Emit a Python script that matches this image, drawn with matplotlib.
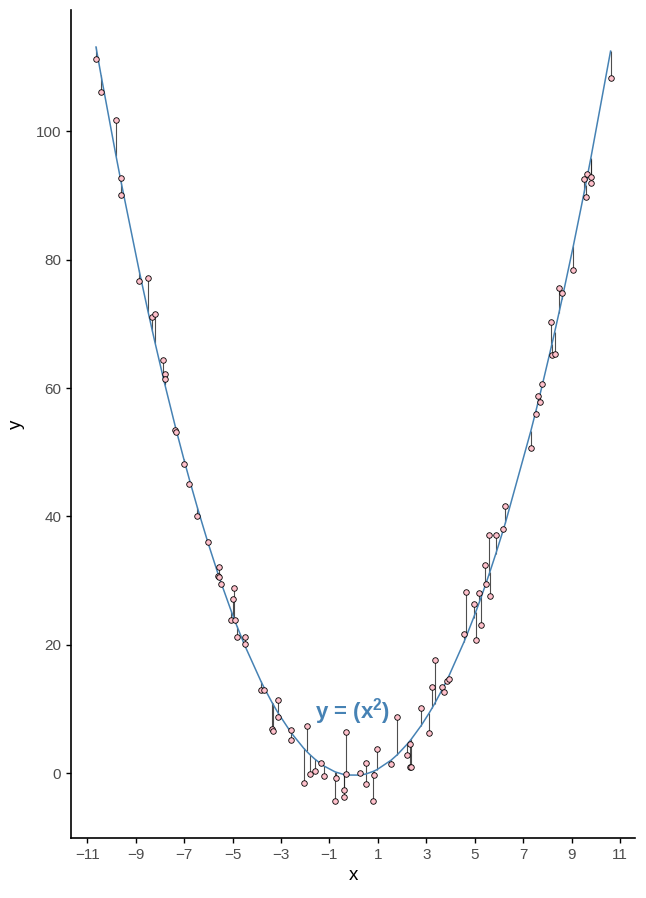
import matplotlib
matplotlib.use("Agg")
import matplotlib.pyplot as plt
import numpy as np

plt.rcParams["font.family"] = ["Liberation Sans", "DejaVu Sans"]
plt.rcParams["mathtext.fontset"] = "custom"
plt.rcParams["mathtext.bf"] = "Liberation Sans:bold"

x = np.array([-10.64, -10.43, -9.81, -9.62, -9.61, -8.86, -8.49, -8.31, -8.20, -7.86,
              -7.80, -7.79, -7.36, -7.33, -7.01, -6.78, -6.46, -6.02, -5.54, -5.61,
              -5.55, -5.47, -4.96, -4.98, -5.05, -4.89, -4.82, -4.50, -4.50, -3.83,
              -3.72, -3.12, -3.11, -3.39, -3.35, -2.57, -2.58, -1.94, -2.06, -1.79,
              -1.61, -1.34, -1.21, -0.74, -0.78, -0.39, -0.39, -0.33, -0.30, 0.28,
              0.52, 0.49, 0.86, 0.97, 0.81, 1.55, 1.81, 2.31, 2.21, 2.31,
              2.38, 2.79, 3.12, 3.25, 3.34, 3.66, 3.73, 3.84, 3.92, 4.56,
              4.66, 4.95, 5.04, 5.19, 5.28, 5.41, 5.48, 5.58, 5.63, 5.87,
              6.15, 6.27, 7.32, 7.54, 7.61, 7.69, 7.77, 8.16, 8.19, 8.30,
              8.48, 8.61, 9.07, 9.58, 9.52, 9.62, 9.80, 9.79, 10.61])
y = np.array([111.2, 106.2, 101.7, 92.7, 90.1, 76.7, 77.2, 71.1, 71.5, 64.4,
              62.2, 61.4, 53.4, 53.2, 48.1, 45.1, 40.0, 36.0, 32.2, 30.8,
              30.5, 29.4, 28.8, 27.2, 23.9, 23.8, 21.2, 21.2, 20.2, 13.0,
              12.9, 11.4, 8.8, 6.9, 6.5, 6.8, 5.1, 7.4, -1.5, -0.2,
              0.4, 1.6, -0.5, -0.8, -4.4, -2.6, -3.7, 6.4, -0.1, 0.1,
              1.6, -1.7, -0.3, 3.8, -4.4, 1.5, 8.7, 4.5, 2.9, 1.0,
              1.0, 10.2, 6.3, 13.5, 17.6, 13.5, 12.6, 14.3, 14.7, 21.7,
              28.2, 26.4, 20.7, 28.0, 23.1, 32.4, 29.5, 37.1, 27.6, 37.1,
              38.0, 41.7, 50.6, 55.9, 58.8, 57.8, 60.7, 70.3, 65.2, 65.3,
              75.6, 74.8, 78.4, 89.7, 92.6, 93.3, 92.9, 92.0, 108.3])
x_ticks = list(range(-11, 12, 2))
y_ticks = [0, 20, 40, 60, 80, 100]

# fit y ~ x^2 (with intercept)
A = np.column_stack([np.ones_like(x), x ** 2])
coef, *_ = np.linalg.lstsq(A, y, rcond=None)
yhat = A @ coef
order = np.argsort(x)

fig = plt.figure(figsize=(6.46, 8.98), dpi=100)
ax = fig.add_axes([0.110, 0.0668, 0.873, 0.922])

ax.vlines(x, y, yhat, color="#222222", lw=0.8, alpha=0.8, zorder=2)
ax.plot(x[order], yhat[order], color="#4682B4", lw=1.1, zorder=3)
ax.scatter(x, y, s=16, facecolor="#FFC0CB", edgecolor="black", linewidth=0.6, zorder=4)

ax.text(-0.05, 9.6, r"y = (x$^\mathbf{2}$)", color="#4682B4", fontsize=16, fontweight="bold",
        ha="center", va="center", zorder=5)

ax.set_xlim(-11.67, 11.62)
ax.set_ylim(-10.1, 118.9)
ax.set_xticks(x_ticks)
ax.set_yticks(y_ticks)
ax.tick_params(labelsize=11, labelcolor="#4D4D4D", color="black", length=3.5, width=1)
ax.set_xlabel("x", fontsize=13.5, labelpad=4)
ax.set_ylabel("y", fontsize=13.5, labelpad=8)
for s in ["top", "right"]:
    ax.spines[s].set_visible(False)
for s in ["left", "bottom"]:
    ax.spines[s].set_linewidth(1.2)

fig.savefig("out.png", dpi=100)
